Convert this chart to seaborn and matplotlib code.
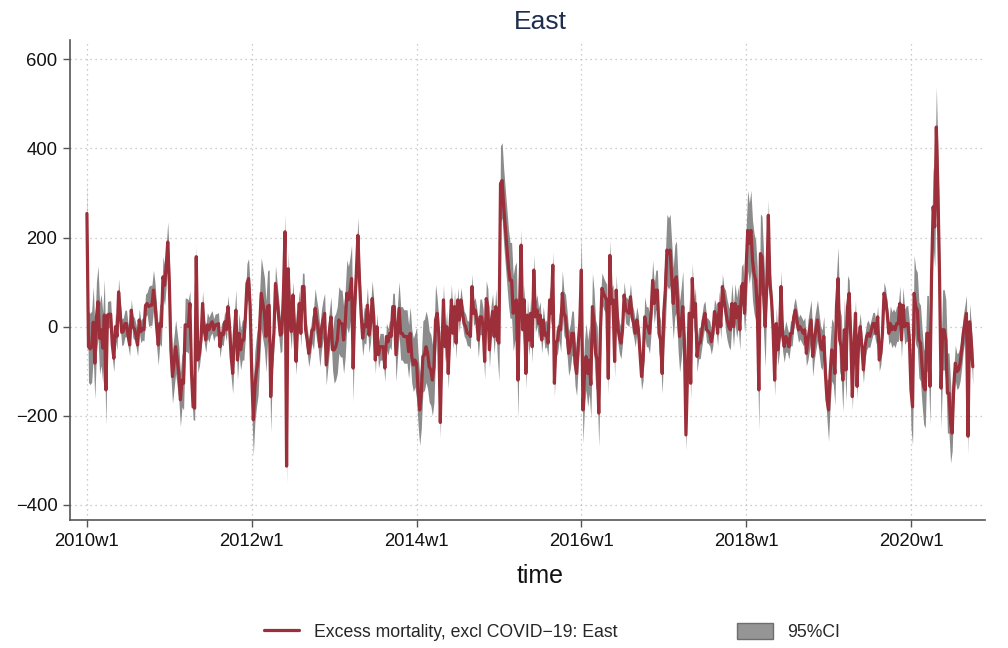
import matplotlib
matplotlib.use("Agg")
import matplotlib.pyplot as plt
from matplotlib.lines import Line2D
from matplotlib.patches import Patch

import seaborn as sns
import pandas as pd
import numpy as np

# weekly excess deaths (East), one list per year (52 weeks)
excess_2010 = [254, -45, -50, -45, 10, -82, 20, 56, -26, -7, -48, 26, -142, 26, 28, 28, -40, -71, 0, -22,
               78, 30, -13, -10, 7, 7, -20, -41, 37, 0, -5, -20, -41, 15, -11, -5, -7, 48, 52, 45,
               48, 48, 82, 52, 0, -41, 7, 0, 112, 93, 134, 190]
excess_2011 = [100, -52, -112, -80, -45, -75, -105, -164, -120, -127, 4, 4, 0, 52, -105, -180, -183, 157, -75, -60,
               -30, 52, -7, -30, 4, -7, 5, 11, -7, 4, 4, 7, -45, -15, -18, 11, -7, 45, 0, -67,
               -105, -20, 37, -75, -15, -52, -30, -30, 22, 97, 108, 45]
excess_2012 = [-105, -209, -134, -100, -75, 0, 75, 52, 30, -22, 45, 48, -157, -60, -15, 97, 60, 22, -19, -15,
               75, 213, -313, 130, 30, -11, 71, 0, -78, 7, 52, -15, 90, 90, -7, -30, -60, -37, -7, -7,
               41, 15, -7, -45, -7, 15, 30, -86, -48, -10, 22, -52]
excess_2013 = [-52, -45, -30, 15, 7, 7, -30, 7, 75, 60, 80, 108, -93, 45, 120, 205, 105, 30, -26, 4,
               0, 48, -19, 7, 63, 22, -75, 0, -63, -45, -45, -45, -93, -22, -34, -15, -22, 45, 45, -63,
               -10, 41, -15, -15, -22, -22, -22, -56, -15, -67, -86, -75]
excess_2014 = [-82, -142, -187, -149, -67, -63, -45, -60, -90, -97, -120, -90, 15, 30, -15, -215, -50, 60, -45, 0,
               -105, -15, 60, -15, 45, -37, 60, 15, 60, 30, 7, 0, -15, -15, -22, 90, 30, 37, 15, -30,
               22, 22, 0, -78, 63, 45, -52, 7, 34, -22, 45, -30]
excess_2015 = [-37, 321, 328, 269, 224, 179, 134, 104, 104, 30, 52, 60, -120, 45, 183, -7, 60, -105, 26, -30,
               30, -45, 127, 22, 37, 7, 26, -30, 15, -19, -15, -37, 60, 30, 138, -127, -37, -30, 0, -7,
               75, 30, 22, -15, -60, -45, -15, -15, -82, -105, -40, 7]
excess_2016 = [127, -187, -105, -67, -105, -75, -130, 45, 7, -60, -75, -194, -15, 86, 75, 67, 60, -116, 160, 52,
               60, -78, 82, 0, -25, -37, -7, 71, 37, 34, 30, 67, 22, 7, -15, 15, -7, -60, -112, -75,
               22, 0, 0, -15, 30, 104, 52, 82, 82, -15, -30, -105]
excess_2017 = [30, 82, 172, 164, 172, 110, 52, 104, 112, 30, -22, 7, 45, -30, -243, -105, 30, -127, 108, 22,
               52, -67, -37, -37, -11, 15, 30, -7, -10, -15, -34, -15, 34, 22, -15, 52, 0, 90, 60, 37,
               15, 0, -7, 52, 0, 52, 20, 45, -7, 90, 97, 30]
excess_2018 = [134, 216, 187, 216, 149, 119, 104, 45, -142, 164, 157, 75, 0, 90, 250, 97, 60, -7, -120, 7,
               -52, -22, 90, -20, -45, -22, -30, -45, -15, -15, 22, 37, 15, -7, 0, -7, -15, -7, -60, -30,
               -7, 15, -67, -30, -7, 15, -15, -45, -52, -22, -105, -164]
excess_2019 = [-187, -105, -52, -60, -105, 45, 108, -30, -45, -120, -7, -97, 45, 75, -22, -157, -45, 30, -134, -30,
               0, -45, -97, -45, -22, -15, -22, -7, 7, 7, -15, 22, -75, -60, -15, 75, 60, 30, -15, 7,
               -7, 0, -7, 7, 7, 52, -30, 48, 0, 7, 7, -30]
excess_2020 = [-142, -180, 75, 45, 37, -30, -37, -90, -134, -142, -15, -15, -134, 119, 269, 224, 448, 306, 119, -138,
               -7, -7, -30, -149, -149, -216, -239, -134, -82, -101, -97, -82, -52, -15, 7, 30, -246, 11, -30, -90]

# half-width of the 95% band, one value per quarter (13 weeks)
ci_half_q = [80, 30, 25, 45,
             60, 28, 25, 45,
             80, 40, 30, 45,
             75, 40, 30, 60,
             80, 35, 28, 40,
             85, 35, 30, 50,
             75, 35, 30, 45,
             80, 35, 28, 45,
             90, 35, 28, 45,
             70, 30, 25, 40,
             85, 90, 40, 40]

tick_years = [2010, 2012, 2014, 2016, 2018, 2020]
weeks_per_year = 52

excess = np.array(excess_2010 + excess_2011 + excess_2012 + excess_2013 + excess_2014 + excess_2015
                  + excess_2016 + excess_2017 + excess_2018 + excess_2019 + excess_2020, dtype=float)
half = np.repeat(ci_half_q, 13)[:len(excess)]
df = pd.DataFrame({"week": np.arange(len(excess)), "excess": excess,
                   "lo": excess - half, "hi": excess + half})

sns.set_theme(style="white")
plt.rcParams["font.family"] = ["Liberation Sans", "DejaVu Sans"]

line_col = "#9c2f3a"
band_col = "#8c8c8c"
axis_col = "#555555"

fig = plt.figure(figsize=(10.08, 6.48), dpi=100)
ax = fig.add_axes([0.0694, 0.1975, 0.9076, 0.7405])

ax.fill_between(df["week"], df["lo"], df["hi"], color=band_col, linewidth=0, zorder=2)
sns.lineplot(data=df, x="week", y="excess", color=line_col, linewidth=2.3, ax=ax, zorder=3)

ax.set_xlim(-10.7, 566.6)
ax.set_ylim(-434, 643)
ax.set_xticks([(y - 2010) * weeks_per_year for y in tick_years])
ax.set_xticklabels([f"{y}w1" for y in tick_years])
ax.set_yticks([-400, -200, 0, 200, 400, 600])

ax.grid(True, linestyle=(0, (1, 3)), color="#bdbdbd", linewidth=0.9, zorder=0)
for s in ["top", "right"]:
    ax.spines[s].set_visible(False)
for s in ["left", "bottom"]:
    ax.spines[s].set_color(axis_col)
    ax.spines[s].set_linewidth(1.2)
ax.tick_params(bottom=True, left=True, direction="out", length=5, width=1, color=axis_col,
               labelsize=13.3, labelcolor="#111111", pad=4)
ax.set_xlabel("")
ax.set_ylabel("")

# title and axis title are centred on the figure area used by Stata
fig.text(540 / 1008, 1 - 22 / 648, "East", color="#1f2d4d", fontsize=19, ha="center", va="center")
fig.text(540 / 1008, 1 - 576 / 648, "time", color="#111111", fontsize=18, ha="center", va="center")

handles = [Line2D([], [], color=line_col, linewidth=2.3),
           Patch(facecolor="#959595", edgecolor="#6e6e6e", linewidth=1)]
labels = ["Excess mortality, excl COVID\u221219: East", "95%CI"]
fig.legend(handles, labels, loc="center", bbox_to_anchor=(552 / 1008, 1 - 632 / 648), ncol=2, frameon=False,
           fontsize=12.7, handlelength=2.0, handleheight=1.05, columnspacing=6.8, handletextpad=0.85)

plt.savefig("out.png", dpi=100)
plt.close()
